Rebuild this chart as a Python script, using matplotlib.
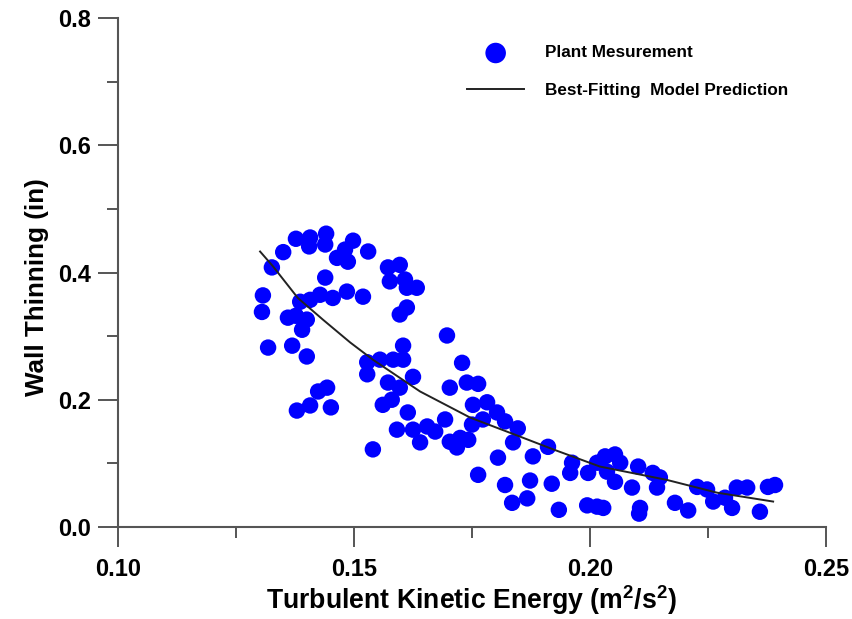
import matplotlib
matplotlib.use("Agg")
import matplotlib.pyplot as plt
from matplotlib.ticker import MultipleLocator

# Plant measurements: turbulent kinetic energy (m^2/s^2) vs wall thinning (in)
tke = [
    0.1377, 0.1407, 0.1441, 0.1439, 0.1405, 0.1350, 0.1498, 0.1481, 0.1464, 0.1487,
    0.1530, 0.1326, 0.1572, 0.1597, 0.1576, 0.1608, 0.1633, 0.1612, 0.1439, 0.1485,
    0.1519, 0.1455, 0.1428, 0.1407, 0.1386, 0.1307, 0.1305, 0.1360, 0.1400, 0.1390,
    0.1377, 0.1612, 0.1597, 0.1318, 0.1369, 0.1400, 0.1604,
    0.1528, 0.1555, 0.1583, 0.1604, 0.1528, 0.1572, 0.1597, 0.1625, 0.1561, 0.1580,
    0.1614, 0.1591, 0.1625, 0.1640, 0.1540, 0.1379, 0.1407, 0.1424, 0.1443, 0.1451,
    0.1697, 0.1729,
    0.1703, 0.1739, 0.1763, 0.1752, 0.1782, 0.1803, 0.1820, 0.1847, 0.1837, 0.1655,
    0.1672, 0.1693, 0.1703, 0.1725, 0.1718, 0.1742, 0.1750, 0.1773, 0.1805, 0.1879,
    0.1911, 0.1763, 0.1820, 0.1873, 0.1919, 0.1835, 0.1867, 0.1934, 0.1962, 0.1958,
    0.1996, 0.1994, 0.2015, 0.2015,
    0.2032, 0.2053, 0.2036, 0.2064, 0.2053, 0.2089, 0.2102, 0.2133, 0.2148, 0.2142,
    0.2028, 0.2106, 0.2104, 0.2180, 0.2208, 0.2227, 0.2248, 0.2261, 0.2286, 0.2301,
    0.2311, 0.2333, 0.2360, 0.2377, 0.2392,
]
thinning = [
    0.453, 0.455, 0.461, 0.444, 0.441, 0.432, 0.450, 0.436, 0.423, 0.417,
    0.433, 0.408, 0.408, 0.412, 0.386, 0.389, 0.376, 0.376, 0.392, 0.370,
    0.362, 0.360, 0.365, 0.357, 0.354, 0.364, 0.338, 0.329, 0.326, 0.310,
    0.332, 0.345, 0.334, 0.282, 0.285, 0.268, 0.285,
    0.259, 0.263, 0.263, 0.263, 0.240, 0.227, 0.219, 0.236, 0.192, 0.200,
    0.180, 0.153, 0.153, 0.133, 0.122, 0.183, 0.191, 0.213, 0.219, 0.188,
    0.301, 0.258,
    0.219, 0.227, 0.225, 0.192, 0.196, 0.180, 0.166, 0.155, 0.133, 0.158,
    0.150, 0.169, 0.134, 0.140, 0.125, 0.137, 0.161, 0.169, 0.109, 0.111,
    0.126, 0.082, 0.066, 0.073, 0.068, 0.038, 0.045, 0.027, 0.101, 0.085,
    0.085, 0.034, 0.032, 0.101,
    0.111, 0.114, 0.087, 0.101, 0.071, 0.062, 0.095, 0.085, 0.078, 0.062,
    0.030, 0.030, 0.021, 0.038, 0.026, 0.063, 0.059, 0.040, 0.046, 0.030,
    0.062, 0.062, 0.024, 0.063, 0.066,
]

# Best-fitting model prediction
model_tke = [0.1301, 0.1328, 0.1381, 0.1434, 0.1492, 0.1540, 0.1640, 0.1746,
             0.1852, 0.1922, 0.2021, 0.2163, 0.2269, 0.2388]
model_thin = [0.433, 0.410, 0.360, 0.326, 0.290, 0.263, 0.213, 0.172,
              0.142, 0.122, 0.095, 0.074, 0.054, 0.040]

xticks = [0.10, 0.15, 0.20, 0.25]
xticklabels = ["0.10", "0.15", "0.20", "0.25"]
yticks = [0.0, 0.2, 0.4, 0.6, 0.8]
yticklabels = ["0.0", "0.2", "0.4", "0.6", "0.8"]

plt.rcParams['font.family'] = ['Liberation Sans', 'DejaVu Sans']
plt.rcParams['font.weight'] = 'bold'
plt.rcParams['mathtext.fontset'] = 'custom'
plt.rcParams['mathtext.bf'] = 'Liberation Sans:bold'
plt.rcParams['mathtext.rm'] = 'Liberation Sans:bold'

fig = plt.figure(figsize=(8.53, 6.19), dpi=100)
ax = fig.add_axes([118/853, 1 - 527/619, 708/853, 509/619])

ax.scatter(tke, thinning, s=140, color='#0000ff', edgecolors='none',
           label='Plant Mesurement', zorder=2)
ax.plot(model_tke, model_thin, color='#222222', lw=1.4,
        label='Best-Fitting  Model Prediction', zorder=3)

ax.set_xlim(0.10, 0.25)
ax.set_ylim(0.0, 0.8)
ax.set_xticks(xticks)
ax.set_xticklabels(xticklabels)
ax.set_yticks(yticks)
ax.set_yticklabels(yticklabels)
ax.xaxis.set_minor_locator(MultipleLocator(0.025))
ax.yaxis.set_minor_locator(MultipleLocator(0.1))

for side in ['top', 'right']:
    ax.spines[side].set_visible(False)
for side in ['left', 'bottom']:
    ax.spines[side].set_color('#555555')
    ax.spines[side].set_linewidth(1.5)

ax.tick_params(which='major', direction='out', length=14.5, width=1.4,
               color='#555555', labelsize=17)
ax.tick_params(which='minor', direction='out', length=8, width=1.4,
               color='#555555')
ax.tick_params(axis='x', which='major', pad=8)
ax.tick_params(axis='y', which='major', pad=5)
for lab in ax.get_xticklabels() + ax.get_yticklabels():
    lab.set_fontweight('bold')

ax.set_xlabel('Turbulent Kinetic Energy (m$^\\mathbf{2}$/s$^\\mathbf{2}$)',
              fontsize=19.2, fontweight='bold')
ax.xaxis.set_label_coords(0.5, -0.110)
ax.set_ylabel('Wall Thinning (in)', fontsize=18.7, fontweight='bold')
ax.yaxis.set_label_coords(-0.097, 0.472)

leg = ax.legend(loc='upper left', bbox_to_anchor=(0.493, 0.946), frameon=False,
                prop={'size': 12.3, 'weight': 'bold'}, handlelength=3.35,
                markerscale=1.25, labelspacing=1.3, handletextpad=1.24,
                borderaxespad=0, borderpad=0)

fig.savefig('out.png', dpi=100)
